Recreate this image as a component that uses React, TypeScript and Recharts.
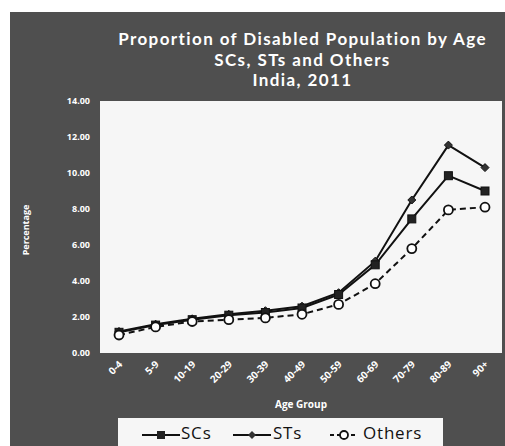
import { LineChart, Line, XAxis, YAxis, CartesianGrid } from 'recharts';

const ageGroups = ['0-4', '5-9', '10-19', '20-29', '30-39', '40-49', '50-59', '60-69', '70-79', '80-89', '90+'];
const scs = [1.15, 1.55, 1.85, 2.1, 2.25, 2.5, 3.25, 4.9, 7.45, 9.85, 9.0];
const sts = [1.2, 1.6, 1.9, 2.15, 2.35, 2.6, 3.35, 5.1, 8.5, 11.55, 10.3];
const others = [1.0, 1.45, 1.75, 1.85, 1.95, 2.15, 2.7, 3.85, 5.8, 7.95, 8.1];
const yTicks = [0, 2, 4, 6, 8, 10, 12, 14];

const data = ageGroups.map((age, i) => ({ age, SCs: scs[i], STs: sts[i], Others: others[i] }));

const BG = '#4f4f4f';
const FONT = '"Open Sans", "DejaVu Sans", sans-serif';

const SquareDot = (props: any) => {
  const { cx, cy, index } = props;
  return <rect key={`sc-${index}`} x={cx - 4} y={cy - 4} width={8} height={8} fill="#222" stroke="#111" />;
};

const DiamondDot = (props: any) => {
  const { cx, cy, index } = props;
  return <path key={`st-${index}`} d={`M${cx},${cy - 4}L${cx + 4},${cy}L${cx},${cy + 4}L${cx - 4},${cy}Z`} fill="#333" stroke="#111" />;
};

const CircleDot = (props: any) => {
  const { cx, cy, index } = props;
  return <circle key={`ot-${index}`} cx={cx} cy={cy} r={4.5} fill="#fff" stroke="#111" strokeWidth={1.8} />;
};

const XTick = (props: any) => {
  const { x, y, payload } = props;
  return (
    <text
      x={x + 4}
      y={y + 4}
      transform={`rotate(-45, ${x + 4}, ${y + 4})`}
      textAnchor="end"
      fill="#fff"
      fontSize={10}
      fontWeight={700}
      fontFamily={FONT}
    >
      {payload.value}
    </text>
  );
};

const legendText = { position: 'absolute' as const, top: 4, fontSize: 17, letterSpacing: 0.8, lineHeight: '22px' };

export default function App() {
  return (
    <div style={{ position: 'absolute', left: 0, top: 0, width: 505, height: 446, background: '#fff', overflow: 'hidden' }}>
      <div style={{ position: 'absolute', left: 10, top: 12, width: 495, height: 434, background: BG }} />
      <div
        style={{
          position: 'absolute',
          left: 100,
          top: 29,
          width: 405,
          textAlign: 'center',
          color: '#fff',
          fontFamily: 'Lato, "Open Sans", sans-serif',
          fontSize: 17,
          fontWeight: 700,
          letterSpacing: 1.4,
          lineHeight: '20.5px',
        }}
      >
        <div>Proportion of Disabled Population by Age</div>
        <div>SCs, STs and Others</div>
        <div>India, 2011</div>
      </div>
      <div
        style={{
          position: 'absolute',
          left: 25,
          top: 230,
          transform: 'translate(-50%, -50%) rotate(-90deg)',
          color: '#fff',
          fontFamily: FONT,
          fontSize: 9,
          fontWeight: 700,
          whiteSpace: 'nowrap',
        }}
      >
        Percentage
      </div>
      <div style={{ position: 'absolute', left: 0, top: 0 }}>
        <LineChart width={505} height={446} data={data} margin={{ top: 101, right: 3, left: 10, bottom: 0 }}>
          <CartesianGrid horizontal={false} vertical={false} fill="#f6f6f6" stroke="none" />
          <XAxis
            dataKey="age"
            height={93}
            axisLine={false}
            tickLine={false}
            interval={0}
            padding={{ left: 19, right: 17 }}
            tick={<XTick />}
            label={{ value: 'Age Group', position: 'insideBottom', offset: 38, fill: '#fff', fontSize: 10, fontWeight: 700, fontFamily: FONT }}
          />
          <YAxis
            width={90}
            domain={[0, 14]}
            ticks={yTicks}
            axisLine={false}
            tickLine={false}
            tickMargin={4}
            tickFormatter={(v: number) => v.toFixed(2)}
            tick={{ fill: '#fff', fontSize: 9, fontWeight: 700, fontFamily: FONT }}
          />
          <Line dataKey="STs" stroke="#111" strokeWidth={2} dot={<DiamondDot />} isAnimationActive={false} />
          <Line dataKey="SCs" stroke="#111" strokeWidth={2} dot={<SquareDot />} isAnimationActive={false} />
          <Line dataKey="Others" stroke="#111" strokeWidth={2} strokeDasharray="6 4" dot={<CircleDot />} isAnimationActive={false} />
        </LineChart>
      </div>
      <div
        style={{
          position: 'absolute',
          left: 118,
          top: 418,
          width: 325,
          height: 30,
          background: '#f6f6f6',
          fontFamily: FONT,
          color: '#111',
        }}
      >
        <svg style={{ position: 'absolute', left: 24, top: 12 }} width={38} height={10}>
          <line x1={0} y1={5} x2={38} y2={5} stroke="#111" strokeWidth={2} />
          <rect x={15} y={1} width={8} height={8} fill="#222" />
        </svg>
        <span style={{ ...legendText, left: 63 }}>SCs</span>
        <svg style={{ position: 'absolute', left: 115, top: 12 }} width={38} height={10}>
          <line x1={0} y1={5} x2={38} y2={5} stroke="#111" strokeWidth={2} />
          <path d="M19,1L23,5L19,9L15,5Z" fill="#333" />
        </svg>
        <span style={{ ...legendText, left: 155 }}>STs</span>
        <svg style={{ position: 'absolute', left: 212, top: 12 }} width={28} height={10}>
          <line x1={0} y1={5} x2={28} y2={5} stroke="#111" strokeWidth={2} strokeDasharray="4 3" />
          <circle cx={14} cy={5} r={4} fill="#fff" stroke="#111" strokeWidth={1.8} />
        </svg>
        <span style={{ ...legendText, left: 245 }}>Others</span>
      </div>
    </div>
  );
}
